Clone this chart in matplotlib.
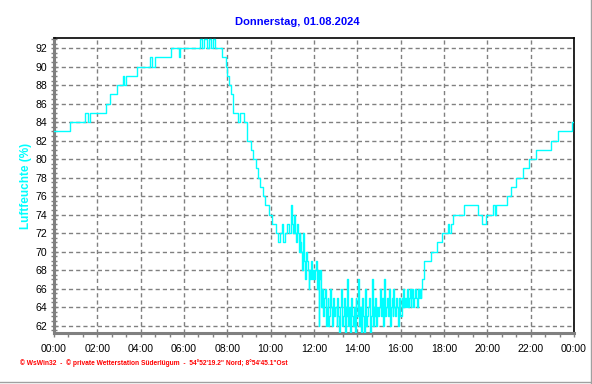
import numpy as np
import matplotlib
matplotlib.use("Agg")
import matplotlib.pyplot as plt
from matplotlib.lines import Line2D
from matplotlib.ticker import MultipleLocator, FixedLocator

# ---- data: relative humidity (%) ----
# 00:00 .. 10:55, every 5 minutes
hum_morning = [
    83, 83, 83, 83, 83, 83, 83, 83, 83, 84, 84, 84,   # 00
    84, 84, 84, 84, 84, 85, 85, 84, 85, 85, 85, 85,   # 01
    85, 85, 85, 85, 85, 86, 86, 87, 87, 87, 87, 88,   # 02
    88, 88, 89, 88, 89, 89, 89, 89, 89, 89, 90, 90,   # 03
    90, 90, 90, 90, 90, 91, 90, 90, 91, 91, 91, 91,   # 04
    91, 91, 91, 91, 91, 92, 92, 92, 92, 91, 92, 92,   # 05
    92, 92, 92, 92, 92, 92, 92, 92, 92, 93, 92, 93,   # 06
    93, 92, 93, 92, 93, 92, 92, 92, 92, 91, 91, 90,   # 07
    89, 88, 87, 85, 85, 85, 84, 85, 85, 84, 84, 82,   # 08
    82, 81, 80, 80, 79, 78, 77, 77, 76, 75, 75, 74,   # 09
    74, 73, 73, 72, 71, 72, 73, 71, 72, 73, 72, 75,   # 10
]
# 11:00 .. 16:57:30, every 2.5 minutes (noisy midday)
hum_midday = [
    73, 72, 74, 72, 71, 73, 72, 70, 72, 71, 70, 68, 72, 69, 67, 70, 69, 68, 66, 68, 67, 69, 67, 68,   # 11
    67, 68, 69, 66, 68, 62, 67, 68, 64, 66, 63, 65, 66, 62, 64, 65, 62, 63, 66, 64, 62, 65, 63, 64,   # 12
    64, 62, 65, 63, 61, 64, 66, 62, 63, 65, 61, 64, 63, 67, 62, 64, 61, 65, 63, 62, 64, 61, 65, 63,   # 13
    63, 67, 62, 64, 61, 65, 63, 61, 64, 66, 62, 63, 64, 65, 61, 63, 67, 62, 64, 63, 65, 62, 64, 63,   # 14
    64, 66, 63, 65, 62, 64, 67, 63, 64, 65, 63, 66, 62, 64, 65, 63, 66, 64, 63, 65, 64, 62, 65, 63,   # 15
    63, 65, 64, 66, 64, 65, 64, 66, 64, 65, 66, 64, 65, 66, 64, 65, 66, 65, 64, 66, 65, 66, 65, 66,   # 16
]
# 17:00 .. 24:00, every 5 minutes
hum_evening = [
    67, 69, 69, 69, 69, 70, 70, 70, 71, 71, 71, 72,   # 17
    72, 72, 73, 72, 73, 74, 74, 74, 74, 74, 74, 75,   # 18
    75, 75, 75, 75, 75, 75, 75, 74, 74, 73, 73, 74,   # 19
    74, 74, 74, 75, 74, 75, 75, 75, 75, 75, 75, 76,   # 20
    76, 77, 77, 77, 78, 78, 78, 78, 79, 79, 79, 80,   # 21
    80, 80, 80, 81, 81, 81, 81, 81, 81, 81, 81, 82,   # 22
    82, 82, 82, 83, 83, 83, 83, 83, 83, 83, 83, 84,   # 23
    84,                                               # 24:00
]
t_morning = np.arange(len(hum_morning)) * 5 / 60.0
t_midday = 11 + np.arange(len(hum_midday)) * 2.5 / 60.0
t_evening = 17 + np.arange(len(hum_evening)) * 5 / 60.0
hours = np.concatenate([t_morning, t_midday, t_evening])
humidity = hum_morning + hum_midday + hum_evening

x_tick_labels = ["00:00", "02:00", "04:00", "06:00", "08:00", "10:00", "12:00",
                 "14:00", "16:00", "18:00", "20:00", "22:00", "00:00"]
y_ticks = [62, 64, 66, 68, 70, 72, 74, 76, 78, 80, 82, 84, 86, 88, 90, 92]

title = "Donnerstag, 01.08.2024"
ylabel = "Luftfeuchte (%)"
footer = "\u00a9 WsWin32  -  \u00a9 private Wetterstation S\u00fcderl\u00fcgum  -  54\u00b052'19.2\" Nord; 8\u00b054'45.1\"Ost"

# ---- figure ----
plt.rcParams['font.family'] = ['Liberation Sans', 'DejaVu Sans']
fig = plt.figure(figsize=(5.92, 3.84), dpi=100)
ax = fig.add_axes([54 / 592, 1 - 333 / 384, 520 / 592, 295 / 384])

ax.plot(hours, humidity, drawstyle='steps-post', color='#00FFFF', lw=1.0, zorder=3)

ax.set_xlim(0, 24)
ax.set_ylim(61.2, 93.1)

ax.xaxis.set_major_locator(FixedLocator(np.arange(0, 25, 2)))
ax.set_xticklabels(x_tick_labels)
ax.xaxis.set_minor_locator(FixedLocator(np.arange(0, 24.01, 2 / 3)))
ax.yaxis.set_major_locator(FixedLocator(y_ticks))
ax.yaxis.set_minor_locator(MultipleLocator(0.5))

ax.grid(True, which='major', color='#808080', linestyle=(0, (3, 2.2)), lw=1.0)
ax.set_axisbelow(True)

ax.tick_params(axis='x', which='both', direction='out', length=3, width=1,
               color='#808080', labelsize=7.6, pad=5)
ax.tick_params(axis='y', which='both', direction='inout', length=4, width=1,
               color='#808080', labelsize=7.6, pad=3)

for s in ('left', 'bottom'):
    ax.spines[s].set_color('#808080')
    ax.spines[s].set_linewidth(2.2)
for s in ('top', 'right'):
    ax.spines[s].set_color('black')
    ax.spines[s].set_linewidth(1.2)

fig.text(297 / 592, 1 - 22 / 384, title, ha='center', va='center',
         color='#0000FF', fontsize=8, fontweight='bold')
fig.text(26 / 592, 1 - 186 / 384, ylabel, ha='center', va='center', rotation=90,
         color='#00FFFF', fontsize=8.5, fontweight='bold')
fig.text(20 / 592, 1 - 363 / 384, footer, ha='left', va='center',
         color='#FF0000', fontsize=4.8, fontweight='bold')

# outer frame (right and bottom)
fig.add_artist(Line2D([590.5 / 592, 590.5 / 592], [0, 1], transform=fig.transFigure,
                      color='#A0A0A0', lw=1))
fig.add_artist(Line2D([0, 590.5 / 592], [1 - 382 / 384, 1 - 382 / 384], transform=fig.transFigure,
                      color='#A0A0A0', lw=1))

fig.savefig('out.png', dpi=100, facecolor='white')
